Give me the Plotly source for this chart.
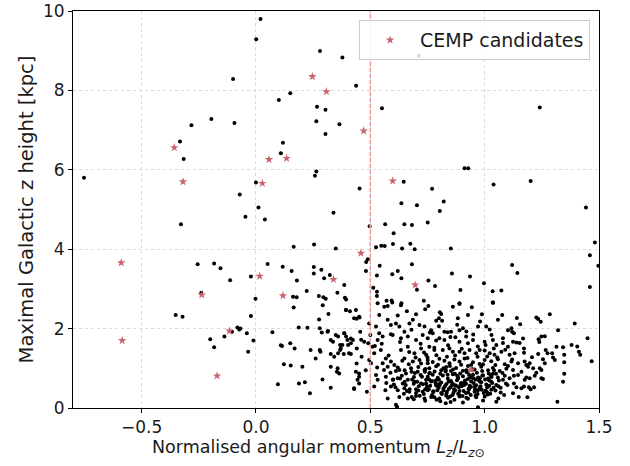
import plotly.graph_objects as go

# ---- data ----
star_lz = [0.020, 0.001, 0.280, 0.378, -0.100, 0.438, 0.100, 0.150, 0.267, 0.304, -0.195, -0.282, -0.094, 0.264, 0.365, 0.304,
           -0.332, 0.118, 0.109, -0.316, -0.752, 0.264, 0.258, 0.000, -0.071, 0.011, 0.453,
           0.712, 0.551, 1.241, 0.912, 0.928, 0.646, 0.770, 1.039, 1.201, 0.636, 0.704, 0.821, 1.443,
           -0.046, 0.039, -0.328, 0.339, 0.165, 0.254, 0.349, -0.255, -0.183, -0.155, -0.113, -0.022, 0.051, 0.117, 0.156, 0.179,
           0.253, 0.253, 0.286, 0.298, 0.222, 0.162, 0.178, 0.275, 0.295, 0.305, 0.356, 0.386, 0.389, 0.394, -0.002, -0.239,
           0.165, 0.292, 0.317, 0.394, 0.411, -0.351, -0.321, -0.022, 0.276, 0.440, 0.453, 0.187, 0.225, -0.081, -0.073, -0.068,
           0.072, -0.105, -0.138, -0.040, -0.200, -0.011, -0.183, -0.034, 0.109, 0.114, 0.150, 0.169, 0.239, 0.279, 0.288, 0.279,
           0.282, 0.313, 0.327, 0.337, 0.349, 0.359, 0.368, 0.371, 0.386, 0.394, 0.403, 0.415, 0.424, 0.327, 0.342, 0.261, 0.384,
           0.415, 0.122, 0.152, 0.203, 0.327, 0.357, 0.364, 0.354, 0.451, 0.096, 0.188, 0.214, 0.236, 0.291, 0.327, 0.429, 0.444,
           0.323, 0.315, 0.368, 0.359,
           0.804, 0.497, 0.565, 0.649, 0.682, 0.751, 0.602, 0.525, 0.548, 0.563, 0.599, 0.639, 0.675, 0.694, 0.852, 0.489, 0.482,
           0.481, 0.541, 0.529, 0.596, 0.620, 0.636, 0.682, 0.754, 0.783, 0.857, 0.936, 0.704, 0.894, 0.513, 0.529, 0.529, 0.571,
           0.593, 0.596, 0.636, 0.734, 0.890,
           1.482, 1.460, 1.497, 1.460, 0.997, 1.120, 1.143, 1.035, 1.073, 1.036,
           0.576, 0.634, 0.754, 0.804, 0.810, 0.861, 0.944, 0.988, 1.036, 1.077, 1.141, 1.226, 1.234, 1.285, 1.394, 1.450, 1.468,
           1.412, 1.418, 1.380, 1.314, 1.343, 1.348, 1.348, 1.343, 1.318, 1.295, 1.307, 1.248, 1.263, 1.321,
           1.155, 1.245, 1.236, 1.239, 1.405, 1.124, 1.139, 1.153, 1.168, 1.172, 1.172, 1.207, 1.234, 1.267, 1.275, 1.348, 1.299,
           1.255, 1.263, 1.146, 1.175, 1.182, 1.190, 1.197, 1.212, 1.241, 1.248, 1.226, 1.219, 1.197, 1.161, 1.146, 1.128, 1.175,
           1.182, 1.248, 1.255, 1.193, 1.201, 1.216, 1.172, 1.161, 1.128, 1.139, 1.124, 1.149, 1.187,
           0.751, 0.773, 0.802, 0.824, 0.846, 0.868, 0.890, 0.912, 0.949, 0.978, 1.000, 1.029, 1.058, 1.088, 1.117,
           0.758, 0.788, 0.810, 0.832, 0.853, 0.875, 0.905, 0.927, 0.956, 0.985, 1.015, 1.036, 1.066, 1.095, 1.124,
           0.751, 0.773, 0.795, 0.817, 0.839, 0.861, 0.883, 0.905, 0.927, 0.949, 0.971, 0.993, 1.015, 1.036, 1.058, 1.088, 1.109,
           0.744, 0.766, 0.788, 0.810, 0.832, 0.853, 0.875, 0.897, 0.919, 0.941, 0.963, 0.985, 1.007, 1.029, 1.051,
           0.756, 0.776, 0.799, 0.820, 0.843, 0.864, 0.887, 0.908, 0.931, 0.956, 0.978, 1.004, 1.029,
           0.766, 0.802, 0.832, 0.868, 0.890, 0.927, 0.963, 0.993, 1.051, 0.971,
           0.890, 1.036, 0.800, 0.788, 0.814, 0.883, 0.927, 1.058, 1.007, 1.022, 0.971, 0.824, 0.838, 0.853, 0.890, 0.905, 0.766,
           0.773, 1.102, 1.117, 1.128, 0.802, 0.824, 0.788, 0.872, 0.890, 0.919, 0.927, 0.949, 1.000, 1.004, 1.036, 1.051, 1.080,
           1.102, 0.758, 0.780, 0.817, 0.846, 0.861, 0.890, 0.912, 0.934, 0.963, 0.978, 1.022, 1.043, 1.073, 1.109, 1.131,
           0.393, 0.437, 0.451, 0.429, 0.386, 0.400, 0.415, 0.378, 0.407, 0.456, 0.473, 0.462, 0.441, 0.437, 0.451, 0.429, 0.485,
           0.451, 0.495, 0.500, 0.491, 0.510, 0.517, 0.495, 0.503, 0.525, 0.532, 0.517, 0.532, 0.561, 0.539, 0.576, 0.525, 0.539,
           0.554, 0.532, 0.590, 0.612, 0.627, 0.649, 0.671, 0.686, 0.715, 0.737, 0.598, 0.634, 0.664, 0.700, 0.729, 0.751, 0.546,
           0.568, 0.590, 0.576, 0.605, 0.554, 0.634, 0.664, 0.693, 0.722, 0.744, 0.649, 0.686, 0.715, 0.751, 0.627, 0.656, 0.678,
           0.707, 0.737, 0.758, 0.568, 0.598, 0.620, 0.642, 0.664, 0.693, 0.722, 0.744, 0.590, 0.620, 0.649, 0.671, 0.700, 0.729,
           0.751, 0.627, 0.664, 0.700, 0.737, 0.576, 0.612, 0.617,
           0.612, 0.638, 0.655, 0.683, 0.695, 0.712, 0.726, 0.734, 0.741, 0.762, 0.770, 0.781, 0.785, 0.793, 0.806, 0.813, 0.826,
           0.829, 0.835, 0.842, 0.849, 0.857, 0.862, 0.871, 0.879, 0.884, 0.893, 0.899, 0.903, 0.914, 0.918, 0.922, 0.935, 0.939,
           0.944, 0.952, 0.958, 0.966, 0.969, 0.975, 0.982, 0.989, 0.996, 1.002, 1.011, 1.018, 1.024, 1.033, 1.041, 1.047, 1.062,
           1.070, 1.078, 1.085, 1.093, 0.722, 0.698, 0.668, 0.735, 0.789, 0.835, 0.871, 0.925, 0.969, 1.011, 1.055, 0.647, 0.681,
           0.705, 0.757, 0.796, 0.848, 0.897, 0.941, 0.993, 1.047, 1.102, 0.603, 0.588, 0.566]

star_zmax = [9.80, 9.29, 8.99, 8.83, 8.29, 8.12, 7.76, 7.93, 7.59, 7.51, 7.28, 7.12, 7.18, 7.22, 7.15, 6.90,
             6.71, 6.68, 6.42, 6.27, 5.80, 5.96, 5.85, 5.68, 5.38, 5.05, 5.53,
             8.87, 7.55, 7.57, 6.04, 6.04, 5.70, 5.52, 5.63, 5.72, 5.16, 5.11, 5.20, 5.05,
             4.82, 4.75, 4.63, 4.92, 4.06, 4.12, 4.02, 3.62, 3.64, 3.52, 3.22, 3.31, 3.63, 3.56, 3.45, 3.21,
             3.55, 3.39, 3.48, 3.27, 2.95, 2.80, 2.79, 2.82, 2.79, 2.75, 2.90, 3.10, 2.78, 2.73, 2.75, 2.90,
             2.53, 2.59, 2.37, 2.47, 2.44, 2.34, 2.30, 2.32, 2.23, 2.25, 2.28, 2.03, 2.02, 2.03, 1.98, 2.00,
             1.91, 1.92, 1.80, 1.88, 1.73, 1.70, 1.53, 1.42, 1.58, 1.56, 1.63, 1.50, 1.46, 2.01, 1.90, 1.46,
             1.42, 1.92, 1.71, 1.67, 1.84, 1.80, 1.59, 1.50, 1.88, 1.80, 1.59, 1.75, 1.71, 1.36, 1.29, 1.25, 1.36,
             1.36, 1.10, 1.07, 1.04, 1.04, 1.00, 0.87, 0.91, 0.87, 0.60, 0.62, 0.65, 0.37, 0.72, 0.51, 0.48, 0.71,
             3.35, 1.94, 1.46, 1.38,
             4.96, 4.58, 4.63, 4.63, 4.61, 4.67, 4.40, 4.05, 4.09, 4.08, 4.13, 4.02, 4.14, 4.00, 4.02, 3.75, 3.68,
             3.45, 3.58, 3.34, 3.37, 3.45, 3.27, 3.62, 3.21, 3.07, 3.39, 3.31, 2.98, 2.97, 3.03, 2.93, 2.82, 2.70,
             2.71, 2.66, 2.64, 2.70, 2.64,
             4.17, 3.85, 3.58, 3.05, 3.14, 3.60, 3.40, 2.94, 2.96, 2.66,
             2.57, 2.59, 2.57, 2.41, 2.37, 2.55, 2.54, 2.36, 2.66, 2.34, 2.27, 2.28, 2.24, 2.36, 2.13, 1.76, 1.18,
             1.42, 1.34, 1.59, 1.54, 1.53, 1.34, 0.86, 0.66, 0.16, 1.38, 1.21, 1.80, 1.81, 1.96,
             2.11, 2.17, 1.73, 1.66, 1.55, 1.67, 1.65, 1.64, 1.75, 1.50, 1.39, 1.28, 1.36, 1.46, 1.38, 1.15, 1.27,
             1.23, 1.13, 1.13, 1.17, 1.08, 1.04, 1.13, 1.00, 1.00, 0.96, 0.89, 0.81, 0.75, 0.91, 0.83, 0.81, 0.71,
             0.77, 0.75, 0.73, 0.52, 0.47, 0.52, 0.54, 0.50, 0.62, 0.52, 0.37, 0.28, 0.27,
             1.21, 1.16, 1.24, 1.19, 1.13, 1.22, 1.17, 1.25, 1.15, 1.11, 1.21, 1.18, 1.23, 1.10, 1.17,
             1.00, 1.05, 0.95, 1.03, 0.93, 1.01, 0.94, 1.06, 0.97, 1.04, 0.95, 1.01, 0.93, 0.99, 0.96,
             0.79, 0.84, 0.76, 0.82, 0.74, 0.85, 0.78, 0.80, 0.73, 0.84, 0.77, 0.82, 0.74, 0.86, 0.77, 0.81, 0.75,
             0.62, 0.67, 0.57, 0.64, 0.60, 0.68, 0.56, 0.63, 0.61, 0.67, 0.57, 0.65, 0.59, 0.66, 0.58,
             0.47, 0.40, 0.51, 0.44, 0.48, 0.39, 0.52, 0.43, 0.47, 0.41, 0.50, 0.44, 0.46,
             0.28, 0.24, 0.31, 0.21, 0.29, 0.23, 0.27, 0.19, 0.16, 0.02,
             2.62, 2.65, 2.26, 2.20, 2.20, 2.26, 2.34, 2.22, 2.05, 1.98, 2.05, 1.92, 1.91, 1.92, 1.96, 2.01, 1.96,
             1.88, 1.96, 2.01, 1.88, 1.76, 1.71, 1.70, 1.78, 1.67, 1.80, 1.63, 1.71, 1.67, 1.59, 1.71, 1.59, 1.64,
             1.54, 1.54, 1.46, 1.46, 1.50, 1.42, 1.42, 1.38, 1.46, 1.38, 1.46, 1.38, 1.34, 1.42, 1.34, 1.38,
             2.47, 2.47, 2.30, 2.26, 1.88, 1.71, 1.63, 1.59, 1.38, 1.92, 1.67, 1.29, 1.50, 0.91, 0.79, 0.50, 0.41,
             0.62, 2.13, 1.84, 1.63, 1.54, 1.38, 1.21, 1.13, 0.83, 0.71, 0.54, 2.64, 2.55, 2.34, 2.22, 2.05, 1.88,
             1.80, 1.71, 2.09, 2.13, 2.05, 1.92, 2.13, 2.22, 2.09, 2.05, 1.84, 1.76, 1.80, 1.71, 1.84, 1.76, 1.46,
             1.25, 1.17, 1.04, 1.08, 1.13, 1.46, 1.54, 1.38, 1.50, 1.34, 1.25, 1.17, 1.21, 1.13, 0.96, 0.87, 1.00,
             0.91, 0.96, 0.87, 0.79, 0.71, 0.75, 0.62, 0.71, 0.66, 0.62, 0.71, 0.54, 0.45, 0.50, 0.41, 0.47, 0.41,
             0.45, 0.28, 0.24, 0.30, 0.24, 0.24, 0.08, 0.03,
             0.93, 0.81, 0.58, 0.72, 0.88, 0.55, 0.79, 0.35, 0.98, 0.56, 0.33, 0.92, 0.63, 0.45, 0.86, 0.35, 0.55,
             0.92, 0.41, 0.66, 0.29, 0.58, 0.97, 0.45, 0.70, 0.36, 0.87, 0.55, 0.30, 0.69, 0.38, 0.90, 0.56, 0.33,
             0.98, 0.63, 0.48, 0.89, 0.35, 0.69, 0.55, 0.93, 0.38, 0.72, 0.52, 0.87, 0.36, 0.63, 0.95, 0.44, 0.69,
             0.51, 0.88, 0.33, 0.62, 1.12, 1.27, 1.10, 1.40, 1.33, 1.29, 1.32, 1.26, 1.29, 1.30, 1.27, 0.36, 0.28,
             0.66, 0.72, 1.09, 1.06, 1.09, 1.08, 1.10, 1.08, 1.06, 0.59, 0.89, 0.45]

# extra stars read from the densest part of the cloud
dense_lz = [0.61, 0.63, 0.66, 0.69, 0.72, 0.74, 0.77, 0.79, 0.81, 0.83, 0.86, 0.88, 0.91, 0.93, 0.95, 0.98, 1.01, 1.03, 1.06, 1.08,
            0.62, 0.65, 0.68, 0.70, 0.73, 0.76, 0.78, 0.80, 0.82, 0.85, 0.87, 0.89, 0.92, 0.94, 0.96, 0.99, 1.02, 1.05, 1.07, 1.10,
            0.56, 0.58, 0.60, 0.64, 0.67, 0.71, 0.75, 0.78, 0.84, 0.90, 0.97, 1.00, 1.04, 1.09, 1.12, 0.55, 0.59, 0.63, 0.68, 0.72,
            0.76, 0.80, 0.85, 0.88, 0.92, 0.95, 0.98, 1.03, 1.08, 1.12, 0.62, 0.66, 0.70, 0.74, 0.53, 0.57, 0.48, 0.46, 0.44, 0.52,
            0.79, 0.82, 0.84, 0.87, 0.89, 0.92, 0.94, 0.97, 0.80, 0.86, 0.91, 0.96, 0.74, 0.71, 0.69, 0.65, 1.00, 1.02, 1.06, 0.83,
            0.672, 0.716, 0.748, 0.775, 0.804, 0.833, 0.866, 0.895, 0.928, 0.957, 0.987, 1.013, 1.039, 0.691, 0.739, 0.787,
            0.838, 0.884, 0.932, 0.979, 1.027, 0.806, 0.851, 0.905]
dense_zmax = [0.52, 0.74, 0.43, 0.61, 0.83, 0.47, 0.68, 0.56, 0.38, 0.95, 0.62, 0.81, 0.58, 0.49, 0.75, 0.66, 0.40, 0.78, 0.55, 0.71,
              1.02, 0.66, 0.91, 0.38, 0.60, 0.89, 0.27, 0.71, 1.00, 0.52, 0.86, 0.33, 0.95, 0.77, 0.31, 0.82, 0.69, 0.86, 0.39, 0.58,
              0.96, 1.32, 0.72, 1.19, 1.41, 1.03, 1.28, 1.52, 1.58, 1.49, 1.55, 1.45, 1.50, 1.47, 1.22, 1.62, 1.86, 1.66, 1.97, 1.62,
              1.90, 2.06, 1.79, 2.10, 1.93, 1.85, 2.18, 1.84, 1.76, 1.92, 2.33, 2.44, 2.36, 2.49, 1.02, 0.63, 0.95, 1.72, 1.12, 1.56,
              0.21, 0.49, 0.26, 0.57, 0.43, 0.26, 0.53, 0.44, 0.60, 0.33, 0.64, 0.72, 0.18, 0.44, 0.22, 0.95, 0.29, 0.56, 0.24, 0.12,
              0.47, 0.31, 0.54, 0.42, 0.58, 0.36, 0.47, 0.60, 0.39, 0.54, 0.46, 0.34, 0.51, 0.78, 0.91, 0.70,
              0.84, 0.74, 0.83, 0.75, 0.82, 0.17, 0.15, 0.14]

cemp_lz = [0.247, 0.308, -0.357, 0.057, 0.134, -0.319, 0.028, 0.471, 0.598, -0.589, -0.585, -0.237, 0.016, 0.118,
           -0.116, -0.170, 0.339, 0.459, 0.696, 0.941]
cemp_zmax = [8.35, 7.97, 6.56, 6.26, 6.29, 5.70, 5.66, 6.98, 5.72, 3.66, 1.70, 2.85, 3.32, 2.83,
             1.94, 0.81, 3.24, 3.90, 3.10, 0.96]

x_ticks = [-0.5, 0.0, 0.5, 1.0, 1.5]
x_tick_labels = ["\u22120.5", "0.0", "0.5", "1.0", "1.5"]
y_ticks = [0, 2, 4, 6, 8, 10]
y_tick_labels = ["0", "2", "4", "6", "8", "10"]
split_lz = 0.5

# ---- figure ----
FONT = "DejaVu Sans"
TXT = "#1a1a1a"
fig = go.Figure()
fig.add_trace(go.Scatter(
    x=star_lz + dense_lz, y=star_zmax + dense_zmax, mode="markers", showlegend=False,
    marker=dict(color="black", size=4, line=dict(width=0)),
))
fig.add_trace(go.Scatter(
    x=cemp_lz, y=cemp_zmax, mode="markers", name="CEMP candidates",
    marker=dict(symbol="star", color="#c8646e", size=6.5, line=dict(width=0)),
))
fig.add_shape(type="line", xref="x", yref="paper", x0=split_lz, x1=split_lz, y0=0, y1=1,
              line=dict(color="#f0a0a0", width=1.6, dash="4px,2px"), layer="above")

axis_common = dict(
    showline=True, linecolor="black", linewidth=1, mirror=True,
    ticks="outside", ticklen=4, tickcolor="black", tickwidth=1,
    showgrid=True, gridcolor="#dadada", griddash="3px,3px", gridwidth=1,
    zeroline=False, automargin=False, tickfont=dict(family=FONT, size=17, color=TXT),
)
fig.update_xaxes(range=[-0.8, 1.5], tickvals=x_ticks, ticktext=x_tick_labels, **axis_common)
fig.update_yaxes(range=[0, 10], tickvals=y_ticks, ticktext=y_tick_labels,
                 title=dict(text="Maximal Galactic z height [kpc]",
                            font=dict(family=FONT, size=19.5, color=TXT), standoff=4),
                 **axis_common)
# x-axis title, placed as in the reference (slightly left of the axis centre)
fig.add_annotation(
    text="Normalised angular momentum <i>L<sub>z</sub></i>/<i>L<sub>z</sub></i><sub>\u2299</sub>",
    xref="paper", yref="paper", x=0.466, y=-0.102, xanchor="center", yanchor="middle",
    showarrow=False, font=dict(family=FONT, size=17.5, color=TXT),
)
fig.update_layout(
    width=630, height=466,
    margin=dict(l=73, r=31, t=11, b=58),
    paper_bgcolor="white", plot_bgcolor="white",
    font=dict(family=FONT, color=TXT),
    legend=dict(x=0.983, y=0.977, xanchor="right", yanchor="top", itemwidth=50,
                bgcolor="rgba(255,255,255,0.85)", bordercolor="#cccccc", borderwidth=1,
                font=dict(family=FONT, size=19, color=TXT)),
)
# remove the default page margin so the figure sits at the window origin
fig.write_html("out.html", config={"displayModeBar": False},
               post_script="document.body.style.margin='0';document.body.style.overflow='hidden';")
